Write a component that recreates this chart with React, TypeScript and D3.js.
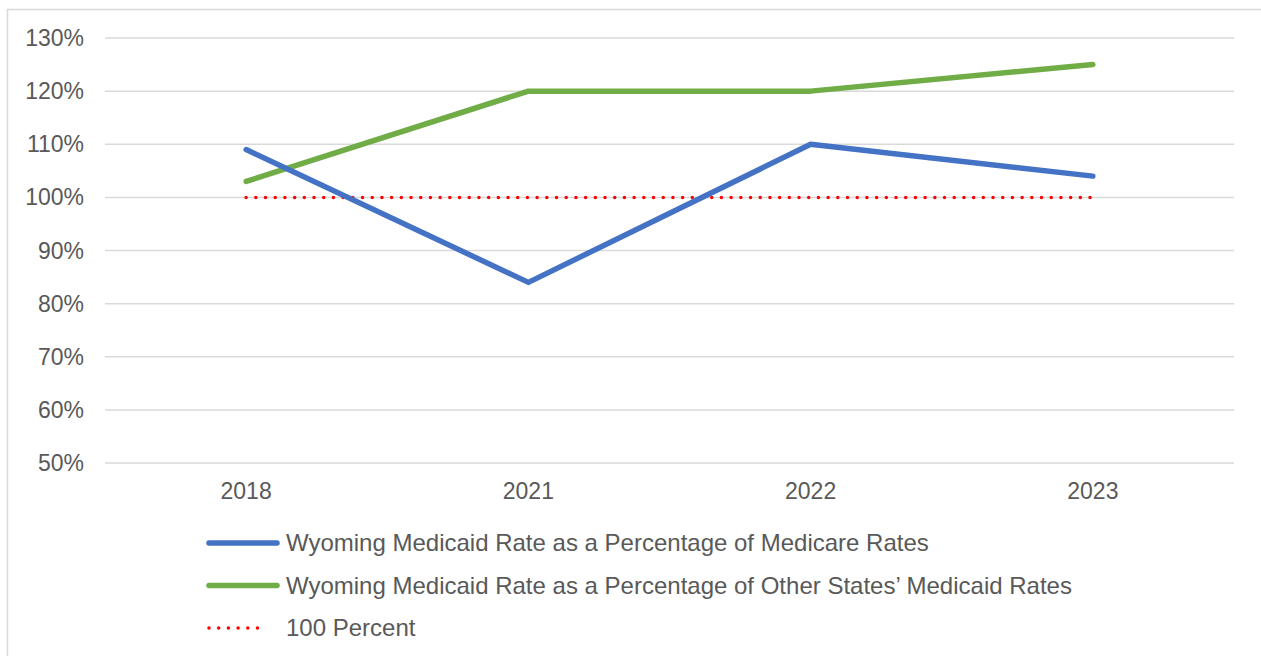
import React from 'react';
import * as d3 from 'd3';

// Wyoming Medicaid rate comparison, Excel-style line chart.

const YEARS = ['2018', '2021', '2022', '2023'];
const MEDICARE_PCT = [109, 84, 110, 104];
const OTHER_STATES_PCT = [103, 120, 120, 125];
const BASELINE_PCT = [100, 100, 100, 100];
const Y_TICKS = [50, 60, 70, 80, 90, 100, 110, 120, 130];

const SERIES = [
  { name: 'Wyoming Medicaid Rate as a Percentage of Medicare Rates', values: MEDICARE_PCT, color: '#4472C4', dotted: false },
  { name: 'Wyoming Medicaid Rate as a Percentage of Other States\u2019 Medicaid Rates', values: OTHER_STATES_PCT, color: '#70AD47', dotted: false },
  { name: '100 Percent', values: BASELINE_PCT, color: '#FF0000', dotted: true },
];

const W = 1261;
const H = 656;
const PLOT = { left: 105, right: 1234, top: 38, bottom: 463 };
const FONT = '"Liberation Sans", Arial, sans-serif';
const TEXT = '#595959';

export default function App() {
  const x = d3.scalePoint().domain(YEARS).range([PLOT.left, PLOT.right]).padding(0.5);
  const y = d3.scaleLinear().domain([50, 130]).range([PLOT.bottom, PLOT.top]);

  const line = d3
    .line<number>()
    .x((_, i) => x(YEARS[i]) ?? 0)
    .y((v) => y(v));

  return (
    <svg
      width={W}
      height={H}
      viewBox={`0 0 ${W} ${H}`}
      style={{ position: 'absolute', left: 0, top: 0, background: '#fff' }}
      fontFamily={FONT}
    >
      <rect x={7.5} y={9.5} width={W} height={H} fill="#fff" stroke="#D9D9D9" strokeWidth={1.5} />

      {/* gridlines + y labels */}
      {Y_TICKS.map((t) => (
        <g key={t}>
          <line x1={PLOT.left} x2={PLOT.right} y1={y(t)} y2={y(t)} stroke="#D9D9D9" strokeWidth={1.5} />
          <text x={84} y={y(t)} dy="0.35em" textAnchor="end" fontSize={23} fill={TEXT}>
            {t}%
          </text>
        </g>
      ))}

      {/* x labels */}
      {YEARS.map((yr) => (
        <text key={yr} x={x(yr)} y={499} textAnchor="middle" fontSize={23} fill={TEXT}>
          {yr}
        </text>
      ))}

      {/* series (baseline first so it sits under) */}
      {[...SERIES].reverse().map((s) => (
        <path
          key={s.name}
          d={line(s.values) ?? ''}
          fill="none"
          stroke={s.color}
          strokeWidth={s.dotted ? 3.5 : 5.5}
          strokeLinecap="round"
          strokeLinejoin="round"
          strokeDasharray={s.dotted ? '0 9.7' : undefined}
        />
      ))}

      {/* legend */}
      {SERIES.map((s, i) => {
        const ly = 543 + i * 42.5;
        return (
          <g key={`lg-${s.name}`}>
            <line
              x1={209}
              x2={s.dotted ? 267 : 277}
              y1={ly}
              y2={ly}
              stroke={s.color}
              strokeWidth={s.dotted ? 3.5 : 5.5}
              strokeLinecap="round"
              strokeDasharray={s.dotted ? '0 9.7' : undefined}
            />
            <text x={286} y={ly} dy="0.35em" fontSize={24} fill={TEXT}>
              {s.name}
            </text>
          </g>
        );
      })}
    </svg>
  );
}
